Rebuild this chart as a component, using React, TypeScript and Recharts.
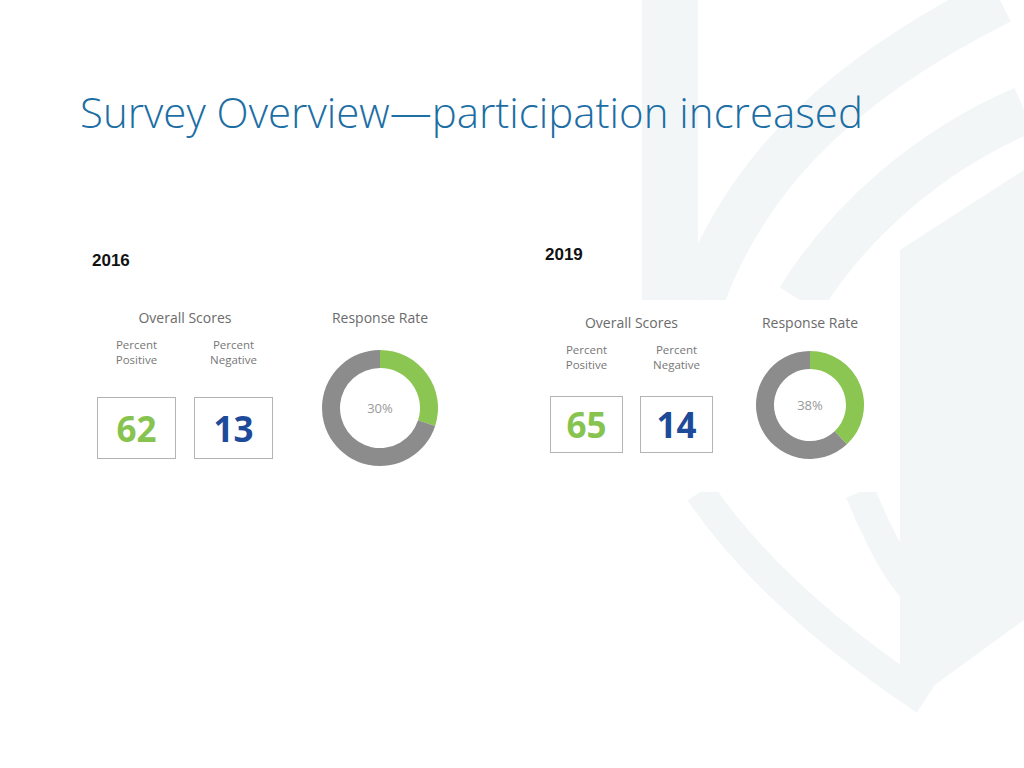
import { PieChart, Pie, Cell, Label } from "recharts";

const titleText = "Survey Overview—participation increased";
const years = ["2016", "2019"];
const positiveScores = [62, 65];
const negativeScores = [13, 14];
const responseRates = [30, 38];
const sliceNames = ["Responded", "Did not respond"];
const sliceColors = ["#8bc652", "#8c8c8c"];

interface PanelProps {
  year: string;
  positive: number;
  negative: number;
  rate: number;
  left: number;
  top: number;
  yearTop: number;
  boxW: number;
  boxH: number;
  boxGap: number;
  gap: number;
  pieSize: number;
  pieGap: number;
  outer: number;
  inner: number;
  pieLeft: number;
}

const bodyFont = "'Open Sans', 'Noto Sans', sans-serif";

function ScoreBox({ value, color, w, h }: { value: number; color: string; w: number; h: number }) {
  return (
    <div
      style={{
        width: w,
        height: h,
        boxSizing: "border-box",
        border: "1.5px solid #b4b4b4",
        display: "flex",
        alignItems: "center",
        justifyContent: "center",
        fontFamily: bodyFont,
        fontWeight: 700,
        fontSize: 35,
        color,
        background: "#fff",
      }}
    >
      {value}
    </div>
  );
}

function Panel(p: PanelProps) {
  const data = [
    { name: sliceNames[0], value: p.rate },
    { name: sliceNames[1], value: 100 - p.rate },
  ];
  const scoresW = p.boxW * 2 + p.gap;
  const small = { width: p.boxW, textAlign: "center" as const, fontFamily: bodyFont, fontSize: 11.5, color: "#777", lineHeight: "15px" };
  return (
    <>
      <div
        style={{
          position: "absolute",
          left: p.left - 5,
          top: p.yearTop,
          fontFamily: "'Liberation Sans', sans-serif",
          fontWeight: 700,
          fontSize: 17,
          color: "#111",
        }}
      >
        {p.year}
      </div>
      <div style={{ position: "absolute", left: p.left, top: p.top, width: scoresW }}>
        <div style={{ textAlign: "center", fontFamily: bodyFont, fontSize: 14, color: "#6b6b6b", lineHeight: "18px" }}>
          Overall Scores
        </div>
        <div style={{ display: "flex", gap: p.gap, marginTop: 10 }}>
          <div style={small}>
            Percent
            <br />
            Positive
          </div>
          <div style={small}>
            Percent
            <br />
            Negative
          </div>
        </div>
        <div style={{ display: "flex", gap: p.gap, marginTop: p.boxGap }}>
          <ScoreBox value={p.positive} color="#86c34f" w={p.boxW} h={p.boxH} />
          <ScoreBox value={p.negative} color="#1d4a99" w={p.boxW} h={p.boxH} />
        </div>
      </div>
      <div style={{ position: "absolute", left: p.pieLeft, top: p.top, width: p.pieSize }}>
        <div style={{ textAlign: "center", fontFamily: bodyFont, fontSize: 14, color: "#6b6b6b", lineHeight: "18px" }}>
          Response Rate
        </div>
        <PieChart width={p.pieSize} height={p.pieSize} style={{ marginTop: p.pieGap }}>
          <Pie
            data={data}
            dataKey="value"
            nameKey="name"
            cx="50%"
            cy="50%"
            innerRadius={p.inner}
            outerRadius={p.outer}
            startAngle={90}
            endAngle={-270}
            stroke="none"
            isAnimationActive={false}
          >
            {data.map((d, i) => (
              <Cell key={d.name} fill={sliceColors[i]} />
            ))}
            <Label
              value={`${p.rate}%`}
              position="center"
              style={{ fontFamily: bodyFont, fontSize: 13, fill: "#999" }}
            />
          </Pie>
        </PieChart>
      </div>
    </>
  );
}

// faint shield watermark behind the slide
function Watermark() {
  const c = "#f2f6f7";
  return (
    <svg width={1024} height={768} style={{ position: "absolute", left: 0, top: 0 }}>
      <rect x={642} y={0} width={56} height={310} fill={c} />
      <path d="M 700 300 C 740 190 820 90 1000 0" stroke={c} strokeWidth={48} fill="none" />
      <path d="M 800 300 C 850 220 930 150 1024 110" stroke={c} strokeWidth={48} fill="none" />
      <path d="M 900 250 L 1024 170 L 1024 620 L 925 692 L 900 680 Z" fill={c} />
      <path d="M 700 492 C 760 580 850 650 925 700" stroke={c} strokeWidth={30} fill="none" />
      <path d="M 860 492 C 880 540 900 580 925 600" stroke={c} strokeWidth={30} fill="none" />
      <rect x={530} y={300} width={364} height={192} fill="#fff" />
    </svg>
  );
}

export default function App() {
  return (
    <div style={{ position: "absolute", left: 0, top: 0, width: 1024, height: 768, background: "#fff", overflow: "hidden" }}>
      <Watermark />
      <div
        style={{
          position: "absolute",
          left: 80,
          top: 83,
          fontFamily: "'Open Sans', sans-serif",
          fontWeight: 300,
          fontSize: 42,
          color: "#1c6ea4",
          whiteSpace: "nowrap",
        }}
      >
        {titleText}
      </div>
      <Panel
        year={years[0]}
        positive={positiveScores[0]}
        negative={negativeScores[0]}
        rate={responseRates[0]}
        left={97}
        top={309}
        yearTop={251}
        boxW={79}
        boxH={62}
        boxGap={30}
        gap={18}
        pieSize={120}
        pieGap={21}
        outer={58}
        inner={40}
        pieLeft={320}
      />
      <Panel
        year={years[1]}
        positive={positiveScores[1]}
        negative={negativeScores[1]}
        rate={responseRates[1]}
        left={550}
        top={314}
        yearTop={245}
        boxW={73}
        boxH={57}
        boxGap={24}
        gap={17}
        pieSize={112}
        pieGap={17}
        outer={54}
        inner={36}
        pieLeft={754}
      />
    </div>
  );
}
